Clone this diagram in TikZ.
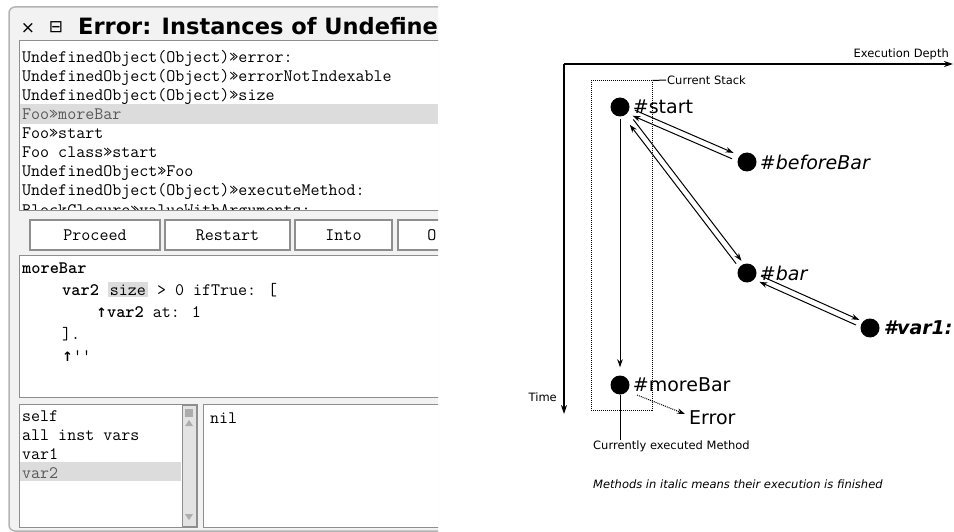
\documentclass[tikz,border=0pt]{standalone}
\usepackage{fontspec}
\newfontfamily\verafont{DejaVu Sans}
\usepackage{tikz}
\usetikzlibrary{arrows.meta}
\usetikzlibrary{positioning}
\usetikzlibrary{calc}

\definecolor{framegray}{HTML}{B4B4B4}
\definecolor{panegray}{HTML}{8E8E8E}
\definecolor{winbg}{HTML}{F2F2F2}
\definecolor{selbg}{HTML}{DCDCDC}
\definecolor{seltext}{HTML}{5A5A5A}

\tikzset{
  sqfont/.style={font=\ttfamily\fontsize{17.5}{19}\selectfont},
  sqline/.style={sqfont, anchor=base west, inner sep=0pt},
  pane/.style={draw=panegray, fill=white, line width=0.8pt},
  sqbutton/.style={draw=panegray, fill=white, line width=1.2pt, sqfont, minimum height=30pt, inner sep=0pt},
  dot/.style={circle, fill=black, inner sep=0pt, minimum size=19pt},
  meth/.style={font=\verafont\fontsize{19}{22}\selectfont, inner sep=2pt},
  done/.style={font=\verafont\itshape\fontsize{19}{22}\selectfont, inner sep=2pt},
  note/.style={font=\verafont\fontsize{11.5}{13}\selectfont, inner sep=1pt},
  flow/.style={line width=1pt, -{Stealth[length=8pt,width=5.5pt]}},
  axis/.style={line width=1.5pt, -{Stealth[length=9pt,width=6pt]}}
}

\begin{document}
\begin{tikzpicture}[x=1pt, y=-1pt]
          \useasboundingbox (0,0) rectangle (954,532);
          \fill[white] (0,0) rectangle (954,532);
          \begin{scope}
            \clip (0,0) rectangle (438,532);
            \draw[framegray, fill=winbg, line width=1.5pt, rounded corners=6pt] (9,7) rectangle (480,531);
            \node[font=\verafont\fontsize{17}{18}\selectfont, inner sep=0pt] (closebox) at (28,28) {×};
            \node[font=\verafont\fontsize{17}{18}\selectfont, inner sep=0pt] (menubox) at (56,27) {⊟};
            \node[font=\verafont\bfseries\fontsize{22.5}{24}\selectfont, anchor=base west, inner sep=0pt] (title) at (78,35) {Error: Instances of Undefine};
            \draw[pane] (19,40) rectangle (470,210);
            \begin{scope}
              \clip (19,40) rectangle (438,210);
              \fill[selbg] (20,104) rectangle (438,124);
              \foreach \txt/\col [count=\i] in {UndefinedObject(Object)»error:/black, UndefinedObject(Object)»errorNotIndexable/black, UndefinedObject(Object)»size/black, Foo»moreBar/seltext, Foo»start/black, Foo class»start/black, UndefinedObject»Foo/black, UndefinedObject(Object)»executeMethod:/black, BlockClosure»valueWithArguments:/black}
                \node[sqline, text=\col] (frame\i) at (22,{63+19*(\i-1)}) {\txt};
            \end{scope}
            \node[sqbutton, minimum width=130pt] (proceed) at (95,235) {Proceed};
            \node[sqbutton, minimum width=125pt] (restart) at (227.5,235) {Restart};
            \node[sqbutton, minimum width=97pt] (into) at (343.5,235) {Into};
            \draw[panegray, fill=white, line width=1.2pt] (398,220) rectangle (480,250);
            \node[sqfont, inner sep=0pt] (over) at (432,235) {O};
            \draw[pane] (19,255) rectangle (470,397);
            \node[sqline] (selector) at (22,273) {\bfseries moreBar};
            \node[sqline] (code1) at (62,295) {{\bfseries var2} {\setlength\fboxsep{2pt}\colorbox{selbg}{size}} > 0 ifTrue: [};
            \node[sqline] (code2) at (96,317) {{\verafont\bfseries\fontsize{13}{13}\selectfont ↑}{\bfseries var2} at: 1};
            \node[sqline] (code3) at (62,339) {].};
            \node[sqline] (code4) at (62,361) {{\verafont\bfseries\fontsize{13}{13}\selectfont ↑}\textquotesingle\textquotesingle};
            \draw[pane] (19,404) rectangle (197,527);
            \fill[selbg] (20,462) rectangle (181,481);
            \foreach \txt/\col [count=\i] in {self/black, all inst vars/black, var1/black, var2/seltext}
              \node[sqline, text=\col] (field\i) at (22,{421+19*(\i-1)}) {\txt};
            \draw[panegray, fill=gray!22] (182,405) rectangle (196,526);
            \fill[gray!65] (185,409) rectangle (193,417);
            \fill[gray!65] (189,420) -- (193,426) -- (185,426) -- cycle;
            \fill[gray!65] (185,514) -- (193,514) -- (189,520) -- cycle;
            \draw[pane] (203,404) rectangle (470,527);
            \node[sqline] (value) at (210,423) {nil};
          \end{scope}
          \coordinate (origin) at (564,64);
          \coordinate (depthend) at (953,64);
          \coordinate (timeend) at (564,414);
          \draw[axis] (origin) -- (depthend);
          \draw[axis] (origin) -- (timeend);
          \node[note, anchor=south east] (depthlbl) at (950,61) {Execution Depth};
          \node[note, anchor=east] (timelbl) at (558,397) {Time};
          \node[draw, densely dotted, line width=1pt, minimum width=61pt, minimum height=329pt, inner sep=0pt] (stack) at (621.5,245.5) {};
          \node[note, anchor=west] (stacklbl) at (666,80) {Current Stack};
          \draw[line width=1pt] (stack.north east) -- (stacklbl.west);
          \node[dot] (start) at (620,107) {};
          \node[meth, right=1pt of start] (startlbl) {\#start};
          \node[dot] (beforebar) at (747,162) {};
          \node[done, right=1pt of beforebar] (beforebarlbl) {\#beforeBar};
          \node[dot] (bar) at (747,273) {};
          \node[done, right=1pt of bar] (barlbl) {\#bar};
          \node[dot] (var1) at (870,328) {};
          \node[done, font=\verafont\bfseries\itshape\fontsize{19}{22}\selectfont, right=2pt of var1] (var1lbl) {\#var1:};
          \node[dot] (morebar) at (620,385) {};
          \node[meth, right=1pt of morebar] (morebarlbl) {\#moreBar};
          \node[meth, anchor=west] (error) at (687,418) {Error};
          \draw[flow, shorten <=15pt, shorten >=16pt] ($(start)!3pt!90:(beforebar)$) -- ($(beforebar)!3pt!-90:(start)$);
          \draw[flow, shorten <=15pt, shorten >=15pt] ($(beforebar)!3pt!90:(start)$) -- ($(start)!3pt!-90:(beforebar)$);
          \draw[flow, shorten <=18pt, shorten >=13pt] ($(start)!3pt!90:(bar)$) -- ($(bar)!3pt!-90:(start)$);
          \draw[flow, shorten <=14pt, shorten >=20pt] ($(bar)!3pt!90:(start)$) -- ($(start)!3pt!-90:(bar)$);
          \draw[flow, shorten <=14pt, shorten >=13pt] ($(bar)!3pt!90:(var1)$) -- ($(var1)!3pt!-90:(bar)$);
          \draw[flow, shorten <=14pt, shorten >=15pt] ($(var1)!3pt!90:(bar)$) -- ($(bar)!3pt!-90:(var1)$);
          \draw[flow, shorten <=2pt, shorten >=8pt] (start) -- (morebar);
          \draw[flow, densely dotted] ([shift={(17,10)}]morebar.center) -- ([shift={(-2,-4)}]error.west);
          \node[note, anchor=north west] (curlbl) at (592,440) {Currently executed Method};
          \draw[line width=1pt] (morebar) -- (morebar |- curlbl.north);
          \node[note, font=\verafont\itshape\fontsize{11.5}{13}\selectfont, anchor=west] (legend) at (592,484) {Methods in italic means their execution is finished};
\end{tikzpicture}
\end{document}
